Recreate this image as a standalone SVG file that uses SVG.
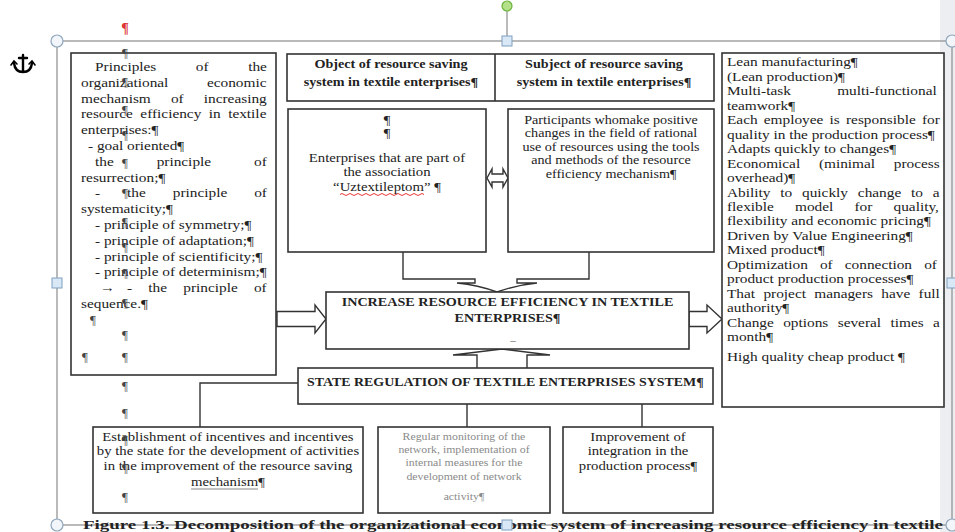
<svg xmlns="http://www.w3.org/2000/svg" width="955" height="532" viewBox="0 0 955 532">
<style>
.box{fill:#fff;stroke:#333;stroke-width:1.6}
.t{font-family:"Liberation Serif","Times New Roman",serif;fill:#222}
.b{font-weight:bold}
.m{text-anchor:middle}
.pil{font-family:"Liberation Serif","Times New Roman",serif;fill:#444;font-size:13px;text-anchor:middle}
.conn{fill:none;stroke:#333;stroke-width:1.4}
.harrow{fill:#fff;stroke:#333;stroke-width:1.4}
.hc{fill:#f2f6fa;stroke:#8fa6bd;stroke-width:1.2}
.hs{fill:#d8e8f6;stroke:#7f9fbf;stroke-width:1}
.frame{fill:none;stroke:#8c8c8c;stroke-width:1.2}
</style>
<rect x="0" y="0" width="955" height="532" fill="#fff"/>
<rect x="940" y="0" width="15" height="532" fill="#eceef1"/>

<!-- selection frame -->
<g id="selection-frame">
<rect class="frame" x="57" y="41" width="895" height="484"/>
<line x1="507" y1="37" x2="507" y2="11" stroke="#8c8c8c" stroke-width="1.2"/>
<circle cx="507" cy="6" r="5" fill="#b5e08a" stroke="#6bb33a" stroke-width="1.2"/>
</g>

<!-- anchor icon -->
<g id="anchor-icon" fill="none" stroke="#000" stroke-width="2.4" stroke-linecap="round">
<path d="M23,55 V72 M19,58 H27 M14,63 Q15,72 23,72 Q31,72 32,63"/>
<path d="M11,65 L14,61 L17,64 M29,64 L32,61 L35,65" stroke-width="1.6"/>
</g>
<text x="125" y="33" font-family="Liberation Serif, serif" font-size="14" font-weight="bold" fill="#d33" text-anchor="middle">¶</text>

<!-- connectors -->
<g id="connectors">
<path class="conn" d="M403,252 V279 H475 V283 H457 Q478,285 497,292"/>
<path class="conn" d="M589,252 V279 H517 V283 H537 Q516,285 497,292"/>
<path class="harrow" d="M487,178 L492,169 V174 H503 V169 L508,178 L503,187 V182 H492 V187 Z"/>
<path class="harrow" d="M277,311.5 H315 V305 L326,319 L315,333 V326.5 H277 Z"/>
<path class="harrow" d="M689,311.5 H707 V305 L722,319 L707,333 V326.5 H689 Z"/>
<path class="harrow" d="M477,368 V355 H453 Q478,352 502,349 Q526,352 550,355 H527 V368"/>
<path class="conn" d="M298,383 H200 V427"/>
<path class="conn" d="M467,404 V427"/>
<path class="conn" d="M642,404 V427"/>
</g>

<!-- left principles box -->
<g id="node-principles">
<rect class="box" x="71" y="53" width="205" height="322"/>
<g class="t" font-size="13" transform="translate(81 0) scale(1.18 1) translate(-81 0)">
<text x="92.9" y="71" word-spacing="30.25">Principles of the</text>
<text x="81" y="86.8" word-spacing="29.4">organizational economic</text>
<text x="81" y="102.6" word-spacing="13.8">mechanism of increasing</text>
<text x="81" y="118.4" word-spacing="3.07">resource efficiency in textile</text>
<text x="81" y="134.2">enterprises:¶</text>
<text x="86.9" y="150">- goal oriented¶</text>
<text x="92.9" y="165.8" word-spacing="33.1">the principle of</text>
<text x="81" y="181.6">resurrection;¶</text>
<text x="92.9" y="197.4" word-spacing="19.6">- the principle of</text>
<text x="81" y="213.2">systematicity;¶</text>
<text x="92.9" y="229">- principle of symmetry;¶</text>
<text x="92.9" y="244.8">- principle of adaptation;¶</text>
<text x="92.9" y="260.6">- principle of scientificity;¶</text>
<text x="92.9" y="276.4">- principle of determinism;¶</text>
<text x="97.1" y="292.2">→</text>
<text x="120" y="292.2" word-spacing="10.5">- the principle of</text>
<text x="81" y="308">sequence.¶</text>
</g>
<text class="pil" x="93" y="324">¶</text>
<text class="pil" x="85" y="361">¶</text>
</g>

<!-- header -->
<g id="node-object-subject">
<rect class="box" x="287" y="54" width="427" height="47"/>
<line x1="495" y1="54" x2="495" y2="101" stroke="#333" stroke-width="1.6"/>
<g class="t b m" font-size="12" transform="translate(391 0) scale(1.18 1) translate(-391 0)">
<text x="391" y="68.5">Object of resource saving</text>
<text x="391" y="86.5">system in textile enterprises¶</text>
</g>
<g class="t b m" font-size="12" transform="translate(604 0) scale(1.18 1) translate(-604 0)">
<text x="604" y="68.5">Subject of resource saving</text>
<text x="604" y="86.5">system in textile enterprises¶</text>
</g>
</g>

<g id="node-enterprises">
<rect class="box" x="288" y="109" width="198" height="143"/>
<g class="t m" font-size="12.5" transform="translate(387 0) scale(1.18 1) translate(-387 0)">
<text x="387" y="124">¶</text>
<text x="387" y="137">¶</text>
<text x="387" y="162">Enterprises that are part of</text>
<text x="387" y="176">the association</text>
<text x="387" y="191">“Uztextileptom” ¶</text>
</g>
<path d="M340,194.5 q2,-2 4,0 t4,0 t4,0 t4,0 t4,0 t4,0 t4,0 t4,0 t4,0 t4,0 t4,0 t4,0 t4,0 t4,0 t4,0 t4,0 t4,0 t4,0 t4,0 t4,0 t4,0" fill="none" stroke="#e02020" stroke-width="0.9"/>
</g>

<g id="node-participants">
<rect class="box" x="508" y="109" width="206" height="143"/>
<g class="t m" font-size="12" transform="translate(611 0) scale(1.18 1) translate(-611 0)">
<text x="611" y="124.5">Participants whomake positive</text>
<text x="611" y="137.5">changes in the field of rational</text>
<text x="611" y="151.5">use of resources using the tools</text>
<text x="611" y="164.5">and methods of the resource</text>
<text x="611" y="178.5">efficiency mechanism¶</text>
</g>
</g>

<g id="node-lean">
<rect class="box" x="722" y="53" width="222" height="354"/>
<g class="t" font-size="13" transform="translate(727 0) scale(1.18 1) translate(-727 0)">
<text x="727" y="66.5">Lean manufacturing¶</text>
<text x="727" y="80.95">(Lean production)¶</text>
<text x="727" y="95.4" word-spacing="36">Multi-task multi-functional</text>
<text x="727" y="109.85">teamwork¶</text>
<text x="727" y="124.3" word-spacing="2">Each employee is responsible for</text>
<text x="727" y="138.75">quality in the production process¶</text>
<text x="727" y="153.2">Adapts quickly to changes¶</text>
<text x="727" y="167.65" word-spacing="12.6">Economical (minimal process</text>
<text x="727" y="182.1">overhead)¶</text>
<text x="727" y="196.55" word-spacing="5.1">Ability to quickly change to a</text>
<text x="727" y="211" word-spacing="14.7">flexible model for quality,</text>
<text x="727" y="225.45">flexibility and economic pricing¶</text>
<text x="727" y="239.9">Driven by Value Engineering¶</text>
<text x="727" y="254.35">Mixed product¶</text>
<text x="727" y="268.8" word-spacing="7">Optimization of connection of</text>
<text x="727" y="283.25">product production processes¶</text>
<text x="727" y="297.7" word-spacing="3.8">That project managers have full</text>
<text x="727" y="312.15">authority¶</text>
<text x="727" y="326.6" word-spacing="4.7">Change options several times a</text>
<text x="727" y="341.05">month¶</text>
<text x="727" y="361.5">High quality cheap product ¶</text>
</g>
</g>

<g id="node-increase">
<rect class="box" x="326" y="292" width="363" height="57"/>
<g class="t b m" font-size="12" transform="translate(507.5 0) scale(1.18 1) translate(-507.5 0)">
<text x="507.5" y="306.5">INCREASE RESOURCE EFFICIENCY IN TEXTILE</text>
<text x="507.5" y="322.5">ENTERPRISES¶</text>
</g>
<text x="513" y="344" font-family="Liberation Serif, serif" font-size="11" fill="#555" text-anchor="middle">–</text>
</g>

<g id="node-state">
<rect class="box" x="298" y="368" width="415" height="36"/>
<g class="t b" font-size="11.8" transform="translate(307 0) scale(1.18 1) translate(-307 0)">
<text x="307" y="386.5">STATE REGULATION OF TEXTILE ENTERPRISES SYSTEM¶</text>
</g>
</g>

<g id="node-incentives">
<rect class="box" x="93" y="427" width="270" height="86"/>
<g class="t m" font-size="12.5" transform="translate(228 0) scale(1.18 1) translate(-228 0)">
<text x="228" y="441">Establishment of incentives and incentives</text>
<text x="228" y="455.5">by the state for the development of activities</text>
<text x="228" y="470">in the improvement of the resource saving</text>
<text x="228" y="486">mechanism¶</text>
</g>
<line x1="191" y1="489" x2="258" y2="489" stroke="#888" stroke-width="1"/>
</g>

<g id="node-monitoring">
<rect class="box" x="378" y="427" width="172" height="86"/>
<g class="t m" font-size="10" fill="#8a8a8a" style="fill:#8a8a8a" transform="translate(464 0) scale(1.18 1) translate(-464 0)">
<text x="464" y="440.5">Regular monitoring of the</text>
<text x="464" y="453.5">network, implementation of</text>
<text x="464" y="466.5">internal measures for the</text>
<text x="464" y="480">development of network</text>
<text x="464" y="500">activity¶</text>
</g>
</g>

<g id="node-integration">
<rect class="box" x="563" y="427" width="150" height="86"/>
<g class="t m" font-size="12.5" transform="translate(638 0) scale(1.18 1) translate(-638 0)">
<text x="638" y="441">Improvement of</text>
<text x="638" y="455.5">integration in the</text>
<text x="638" y="470">production process¶</text>
</g>
</g>

<!-- paragraph marks column -->
<g id="pilcrows">
<text class="pil" x="125" y="57">¶</text>
<text class="pil" x="125" y="86">¶</text>
<text class="pil" x="125" y="114">¶</text>
<text class="pil" x="125" y="139">¶</text>
<text class="pil" x="125" y="167">¶</text>
<text class="pil" x="125" y="197">¶</text>
<text class="pil" x="125" y="226">¶</text>
<text class="pil" x="125" y="251">¶</text>
<text class="pil" x="125" y="277">¶</text>
<text class="pil" x="125" y="307">¶</text>
<text class="pil" x="125" y="339">¶</text>
<text class="pil" x="125" y="361">¶</text>
<text class="pil" x="125" y="390">¶</text>
<text class="pil" x="125" y="417">¶</text>
<text class="pil" x="125" y="444">¶</text>
<text class="pil" x="125" y="472">¶</text>
<text class="pil" x="125" y="501">¶</text>
</g>

<!-- caption -->
<text id="caption" class="t b" x="83" y="529" font-size="13" textLength="860" lengthAdjust="spacingAndGlyphs">Figure 1.3. Decomposition of the organizational economic system of increasing resource efficiency in textile</text>

<!-- handles -->
<g id="handles">
<circle class="hc" cx="57" cy="41" r="6"/>
<circle class="hc" cx="952" cy="41" r="6"/>
<circle class="hc" cx="57" cy="525" r="6"/>
<circle class="hc" cx="952" cy="525" r="6"/>
<rect class="hs" x="502" y="36" width="10" height="10"/>
<rect class="hs" x="502" y="520" width="10" height="10"/>
<rect class="hs" x="52" y="278" width="10" height="10"/>
<rect class="hs" x="947" y="278" width="10" height="10"/>
</g>
</svg>
